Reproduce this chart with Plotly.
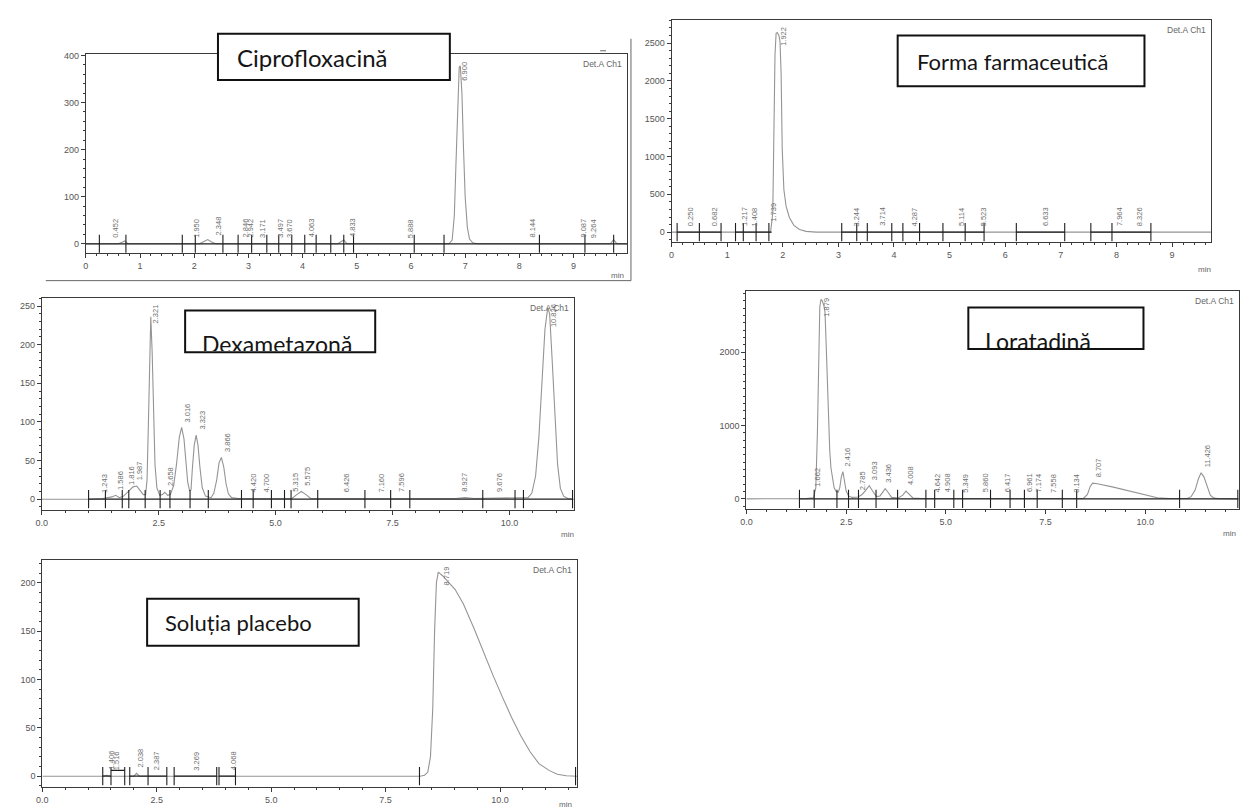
import numpy as np
import plotly.graph_objects as go

W, H = 1242, 811

# ---------------- Ciprofloxacină ----------------
cip_time = [0.00, 0.60, 0.68, 0.72, 0.78, 2.10, 2.18, 2.25, 2.32, 2.40, 4.65, 4.72, 4.76, 4.82,
            6.70, 6.76, 6.80, 6.83, 6.86, 6.89, 6.91, 6.94, 6.97, 7.00, 7.04, 7.08, 7.14, 7.22,
            9.68, 9.74, 9.80, 10.00]
cip_signal = [0, 0, 4, 6, 0, 0, 5, 9, 4, 0, 0, 6, 8, 0,
              0, 8, 60, 170, 300, 375, 378, 320, 200, 100, 35, 10, 2, 0,
              0, 9, 0, 0]
cip_ticks = [0.25, 0.74, 1.78, 2.02, 2.53, 2.81, 3.06, 3.34, 3.56, 3.80, 4.04, 4.25, 4.52,
             4.76, 4.94, 6.06, 6.61, 8.37, 9.21, 9.74]
cip_seg_start = [0.0]
cip_seg_end = [10.0]
cip_seg_level = [0]
cip_labels = ["0.452", "1.950", "2.348", "2.846", "2.942", "3.171", "3.497", "3.670", "4.063",
              "4.833", "5.888", "6.900", "8.144", "9.087", "9.264"]

# ---------------- Forma farmaceutică ----------------
fa_time = [0.00, 1.78, 1.82, 1.84, 1.86, 1.88, 1.90, 1.93, 1.95, 1.97, 1.99, 2.02, 2.06, 2.12,
           2.20, 2.30, 2.42, 2.60, 9.70]
fa_signal = [0, 0, 250, 1300, 2350, 2630, 2640, 2600, 2520, 2100, 1100, 560, 340, 190,
             90, 35, 10, 0, 0]
fa_ticks = [0.10, 0.50, 0.89, 1.15, 1.29, 1.52, 1.75, 3.06, 3.33, 3.52, 3.96, 4.16, 4.46, 4.88,
            5.28, 5.62, 6.20, 7.07, 7.54, 7.92, 8.62]
fa_seg_start = [0.10, 1.15, 3.06, 6.20, 7.54]
fa_seg_end = [0.89, 1.80, 5.62, 7.07, 8.62]
fa_seg_level = [0, 0, 0, 0, 0]
fa_labels = ["0.250", "0.682", "1.217", "1.408", "1.739", "1.922", "3.244", "3.714", "4.287",
             "5.114", "5.523", "6.633", "7.964", "8.326"]

# ---------------- Dexametazonă ----------------
dx_time = [0.00, 1.00, 1.30, 1.50, 1.58, 1.66, 1.75, 1.85, 1.95, 2.03, 2.10, 2.17, 2.22, 2.25,
           2.28, 2.31, 2.33, 2.36, 2.39, 2.42, 2.46, 2.52, 2.58, 2.63, 2.69, 2.75, 2.82, 2.88,
           2.94, 2.99, 3.04, 3.08, 3.12, 3.16, 3.19, 3.22, 3.26, 3.30, 3.34, 3.38, 3.43, 3.50,
           3.62, 3.68, 3.74, 3.79, 3.84, 3.89, 3.94, 3.99, 4.06, 4.20, 5.35, 5.45, 5.55, 5.65,
           5.75, 8.85, 9.05, 9.25, 10.40, 10.48, 10.56, 10.63, 10.70, 10.76, 10.82, 10.86,
           10.91, 10.97, 11.03, 11.09, 11.16, 11.25, 11.38]
dx_signal = [0, 0, 1, 3, 5, 2, 4, 10, 16, 17, 12, 6, 6, 25,
             100, 210, 236, 190, 110, 45, 15, 5, 6, 9, 5, 6, 18, 45,
             80, 93, 78, 48, 22, 11, 12, 40, 70, 83, 70, 42, 15, 4,
             2, 8, 25, 47, 54, 42, 20, 7, 2, 1, 1, 6, 10, 6,
             1, 1, 2, 1, 2, 8, 30, 80, 150, 220, 248, 240,
             185, 110, 45, 14, 4, 1, 0]
dx_ticks = [1.00, 1.36, 1.72, 1.86, 2.21, 2.53, 2.74, 3.17, 3.56, 4.27, 4.52, 4.91, 5.19, 5.33,
            5.90, 6.91, 7.46, 7.87, 9.43, 10.12, 10.30, 11.35]
dx_seg_start = [1.00]
dx_seg_end = [11.35]
dx_seg_level = [0]
dx_labels = ["1.243", "1.586", "1.816", "1.987", "2.321", "2.658", "3.016", "3.323", "3.866",
             "4.420", "4.700", "5.315", "5.575", "6.426", "7.160", "7.596", "8.927", "9.676",
             "10.826"]

# ---------------- Loratadină ----------------
lo_time = [0.00, 1.30, 1.50, 1.68, 1.74, 1.78, 1.81, 1.84, 1.87, 1.90, 1.94, 1.97, 2.00, 2.03,
           2.06, 2.09, 2.12, 2.16, 2.20, 2.25, 2.30, 2.34, 2.38, 2.42, 2.46, 2.50, 2.56, 2.65,
           2.80, 2.90, 2.98, 3.08, 3.16, 3.26, 3.35, 3.42, 3.48, 3.55, 3.64, 3.80, 3.92, 4.00,
           4.08, 4.18, 4.40, 8.45, 8.55, 8.62, 8.68, 8.80, 9.20, 9.60, 10.00, 10.30, 10.60,
           11.05, 11.15, 11.25, 11.33, 11.40, 11.47, 11.55, 11.63, 11.72, 11.85, 12.35]
lo_signal = [0, 0, 3, 15, 150, 900, 2000, 2620, 2720, 2700, 2640, 2550, 2100, 1500,
             1000, 650, 420, 250, 150, 100, 90, 150, 300, 370, 260, 110, 40, 20,
             25, 60, 110, 180, 110, 30, 40, 100, 140, 90, 20, 10, 50, 105,
             60, 10, 5, 5, 60, 170, 215, 205, 160, 110, 55, 15, 5,
             5, 30, 120, 270, 355, 300, 160, 50, 10, 2, 0]
lo_ticks = [1.33, 1.70, 2.27, 2.56, 2.81, 3.25, 3.79, 4.50, 4.72, 5.20, 5.42, 6.12, 6.61, 6.97,
            7.29, 7.92, 8.28, 10.86, 12.32]
lo_seg_start = [1.33]
lo_seg_end = [12.32]
lo_seg_level = [0]
lo_labels = ["1.662", "1.879", "2.416", "2.785", "3.093", "3.436", "4.008", "4.642", "4.908",
             "5.349", "5.860", "6.417", "6.961", "7.174", "7.558", "8.134", "8.707", "11.426"]

# ---------------- Soluția placebo ----------------
pl_time = [0.00, 1.30, 1.40, 1.50, 2.00, 2.06, 2.12, 8.25, 8.35, 8.42, 8.48, 8.53, 8.57, 8.61,
           8.65, 8.75, 9.02, 9.20, 9.43, 9.62, 9.84, 10.05, 10.25, 10.45, 10.66, 10.85, 11.07,
           11.25, 11.45, 11.68]
pl_signal = [0, 0, 1, 0, 0, 3, 0, 0, 1, 4, 20, 70, 150, 200,
             211, 207, 193, 178, 153, 130, 105, 82, 61, 42, 25, 13, 6,
             2, 0.5, 0]
pl_ticks = [1.32, 1.50, 1.80, 1.91, 2.31, 2.72, 2.88, 3.81, 3.86, 4.22, 8.24, 11.65]
pl_seg_start = [1.32, 1.50, 1.91, 2.88, 3.86]
pl_seg_end = [1.50, 1.80, 2.72, 3.81, 4.22]
pl_seg_level = [0, 6, 0, 0, 0]
pl_labels = ["1.406", "1.516", "2.038", "2.387", "3.269", "4.068", "8.719"]

# ---------------- panel titles ----------------
titles = ["Ciprofloxacină", "Forma farmaceutică", "Dexametazonă", "Loratadină", "Soluția placebo"]
detector_label = "Det.A Ch1"
time_unit = "min"

# ---------------- layout geometry (pixels) / styles ----------------
panels = [
    dict(t=cip_time, s=cip_signal, ticks=cip_ticks,
         seg=(cip_seg_start, cip_seg_end, cip_seg_level), labels=cip_labels,
         dom=(80.2, 624.5, 50.7, 250.0), xr=(0, 9.995), yr=(-19, 402),
         xd=1, xm=0.2, yd=100, ym=20, xfmt='d', minpos=(614, 273)),
    dict(t=fa_time, s=fa_signal, ticks=fa_ticks,
         seg=(fa_seg_start, fa_seg_end, fa_seg_level), labels=fa_labels,
         dom=(668.8, 1210.8, 16.0, 239.3), xr=(0, 9.70), yr=(-132, 2806),
         xd=1, xm=0.2, yd=500, ym=100, xfmt='d', minpos=(1204, 267)),
    dict(t=dx_time, s=dx_signal, ticks=dx_ticks,
         seg=(dx_seg_start, dx_seg_end, dx_seg_level), labels=dx_labels,
         dom=(36.0, 570.7, 295.0, 509.0), xr=(0, 11.38), yr=(-14.6, 261),
         xd=2.5, xm=0.5, yd=50, ym=10, xfmt='.1f', minpos=(564, 533)),
    dict(t=lo_time, s=lo_signal, ticks=lo_ticks,
         seg=(lo_seg_start, lo_seg_end, lo_seg_level), labels=lo_labels,
         dom=(744.0, 1239.0, 288.3, 507.7), xr=(0, 12.35), yr=(-141, 2836),
         xd=2.5, xm=0.5, yd=1000, ym=100, xfmt='.1f', minpos=(1229, 532)),
    dict(t=pl_time, s=pl_signal, ticks=pl_ticks,
         seg=(pl_seg_start, pl_seg_end, pl_seg_level), labels=pl_labels,
         dom=(36.5, 573.7, 558.3, 786.7), xr=(0, 11.68), yr=(-11, 224),
         xd=2.5, xm=0.5, yd=50, ym=10, xfmt='.1f', minpos=(562, 804)),
]

# title boxes: (x0, x1, y0, y1) px, text-left px, text-y px, clipped?
boxes = [
    dict(box=(213, 446, 30, 76.5), tx=230, ty=54, clip=False, size=24),
    dict(box=(896, 1144, 31.7, 82.7), tx=913, ty=58, clip=False, size=22),
    dict(box=(180, 371, 308, 350), tx=197, ty=350, clip=True, size=23, ch=21),
    dict(box=(967, 1143, 305, 346.7), tx=984, ty=346.7, clip=True, size=23, ch=21),
    dict(box=(141.8, 354.4, 597.7, 645), tx=158, ty=622, clip=False, size=22),
]

SIG = '#949494'
AX = '#3a3a3a'
TC = '#555555'
TF = 'Liberation Sans, Arial, sans-serif'
LF = 'Liberation Sans Narrow, Liberation Sans, Arial, sans-serif'
BF = 'Lato, Open Sans, sans-serif'


def xp(px):
    return px / W


def yp(py):
    return 1 - py / H


fig = go.Figure()
annotations = []
shapes = []
layout = {}

for k, p in enumerate(panels, start=1):
    xa = 'x' if k == 1 else f'x{k}'
    ya = 'y' if k == 1 else f'y{k}'
    xkey = 'xaxis' if k == 1 else f'xaxis{k}'
    ykey = 'yaxis' if k == 1 else f'yaxis{k}'
    L, R, T, B = p['dom']
    assert len(p['t']) == len(p['s'])

    fig.add_trace(go.Scatter(x=p['t'], y=p['s'], mode='lines',
                             line=dict(color=SIG, width=1.1),
                             xaxis=xa, yaxis=ya, hoverinfo='skip', showlegend=False))
    sx, sy = [], []
    for a, b, lv in zip(*p['seg']):
        sx += [a, b, None]
        sy += [lv, lv, None]
    fig.add_trace(go.Scatter(x=sx, y=sy, mode='lines', line=dict(color='#1e1e1e', width=1.2),
                             xaxis=xa, yaxis=ya, hoverinfo='skip', showlegend=False))
    fig.add_trace(go.Scatter(x=p['ticks'], y=[0] * len(p['ticks']), mode='markers',
                             marker=dict(symbol='line-ns', size=13,
                                         line=dict(color='#1e1e1e', width=1.1)),
                             xaxis=xa, yaxis=ya, hoverinfo='skip', showlegend=False))

    common = dict(showline=True, linecolor=AX, linewidth=1, mirror=True, ticks='outside',
                  ticklen=4, tickwidth=1, tickcolor=AX, showgrid=False, zeroline=False,
                  tickfont=dict(family=TF, size=9, color=TC), fixedrange=True)
    layout[xkey] = dict(domain=[xp(L), xp(R)], range=list(p['xr']), anchor=ya,
                        tick0=0, dtick=p['xd'], tickformat=p['xfmt'],
                        minor=dict(ticks='outside', ticklen=2, tick0=0, dtick=p['xm'],
                                   tickcolor=AX, showgrid=False), **common)
    layout[ykey] = dict(domain=[yp(B), yp(T)], range=list(p['yr']), anchor=xa,
                        tick0=0, dtick=p['yd'],
                        minor=dict(ticks='outside', ticklen=2, tick0=0, dtick=p['ym'],
                                   tickcolor=AX, showgrid=False), **common)

    # peak retention-time labels
    ppu = (B - T) / (p['yr'][1] - p['yr'][0])
    for lab in p['labels']:
        v = float(lab)
        probe = np.linspace(v - 0.03, v + 0.05, 9)
        local = float(np.max(np.interp(probe, p['t'], p['s'])))
        bottom = max(local, 0) + 4 / ppu
        length = (4.2 * len(lab) + 2) / ppu
        top_lim = p['yr'][1] - 5 / ppu
        if bottom + length > top_lim:
            yv, yanc = top_lim, 'top'
        else:
            yv, yanc = bottom, 'bottom'
        annotations.append(dict(x=v, y=yv, xref=xa, yref=ya, text=lab, textangle=-90,
                                showarrow=False, xanchor='center', yanchor=yanc, xshift=5,
                                font=dict(family=LF, size=7.5, color='#6e6e6e')))

    annotations.append(dict(x=1, y=1, xref=f'{xa} domain', yref=f'{ya} domain',
                            text=detector_label, showarrow=False, xanchor='right',
                            yanchor='top', xshift=-3, yshift=-3,
                            font=dict(family=TF, size=8.5, color='#666666')))
    mx, my = p['minpos']
    annotations.append(dict(x=xp(mx), y=yp(my), xref='paper', yref='paper', text=time_unit,
                            showarrow=False, xanchor='center', yanchor='middle',
                            font=dict(family=TF, size=8, color='#666666')))

# title boxes
for ttl, bx in zip(titles, boxes):
    x0, x1, y0, y1 = bx['box']
    shapes.append(dict(type='rect', xref='paper', yref='paper', x0=xp(x0), x1=xp(x1),
                       y0=yp(y1), y1=yp(y0), line=dict(color='#111111', width=2),
                       fillcolor='white', layer='above'))
    if bx['clip']:
        annotations.append(dict(x=xp(bx['tx']), y=yp(bx['ty']), xref='paper', yref='paper',
                                text=ttl, showarrow=False, xanchor='left', yanchor='bottom',
                                height=bx['ch'], valign='top', align='left', borderpad=0,
                                borderwidth=0, yshift=1,
                                font=dict(family=BF, size=bx['size'], color='#151515')))
    else:
        annotations.append(dict(x=xp(bx['tx']), y=yp(bx['ty']), xref='paper', yref='paper',
                                text=ttl, showarrow=False, xanchor='left', yanchor='middle',
                                font=dict(family=BF, size=bx['size'], color='#151515')))

# scan-frame lines around the first chromatogram
shapes.append(dict(type='line', xref='paper', yref='paper', x0=xp(40), x1=xp(628),
                   y0=yp(278), y1=yp(278), line=dict(color='#666666', width=1)))
shapes.append(dict(type='line', xref='paper', yref='paper', x0=xp(628), x1=xp(628),
                   y0=yp(35), y1=yp(278), line=dict(color='#666666', width=1)))
shapes.append(dict(type='line', xref='paper', yref='paper', x0=xp(597), x1=xp(603),
                   y0=yp(47), y1=yp(47), line=dict(color='#666666', width=1)))

fig.update_layout(width=W, height=H, margin=dict(l=0, r=0, t=0, b=0), autosize=False,
                  paper_bgcolor='white', plot_bgcolor='white', showlegend=False,
                  annotations=annotations, shapes=shapes, **layout)

fig.write_html("out.html", config={'displayModeBar': False},
               post_script="document.body.style.margin='0px';"
                           "document.body.style.overflow='hidden';")
